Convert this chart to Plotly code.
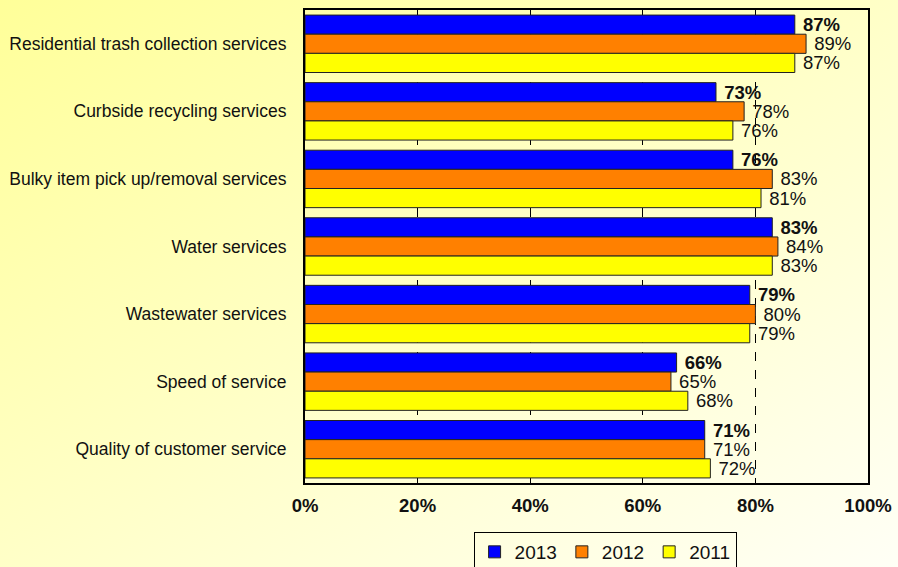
import base64
import plotly.graph_objects as go

categories = [
    "Residential trash collection services",
    "Curbside recycling services",
    "Bulky item pick up/removal services",
    "Water services",
    "Wastewater services",
    "Speed of service",
    "Quality of customer service",
]
series_names = ["2013", "2012", "2011"]
values_2013 = [0.87, 0.73, 0.76, 0.83, 0.79, 0.66, 0.71]
values_2012 = [0.89, 0.78, 0.83, 0.84, 0.80, 0.65, 0.71]
values_2011 = [0.87, 0.76, 0.81, 0.83, 0.79, 0.68, 0.72]
tick_values = [0, 0.2, 0.4, 0.6, 0.8, 1.0]
tick_labels = ["0%", "20%", "40%", "60%", "80%", "100%"]

colors = ["#0000FF", "#FF8000", "#FFFF00"]
templates = ["<b>%{x:.0%}</b>", "%{x:.0%}", "%{x:.0%}"]
series = [values_2013, values_2012, values_2011]

FONT = "Liberation Sans, Arial, sans-serif"

fig = go.Figure()
for name, vals, col, tpl in zip(series_names, series, colors, templates):
    fig.add_trace(go.Bar(
        y=categories, x=vals, name=name, orientation="h",
        marker=dict(color=col, line=dict(color="#222222", width=1)),
        texttemplate=" " + tpl, textposition="outside", constraintext="none",
        textfont=dict(family=FONT, size=18.5, color="#111111"),
        cliponaxis=False,
    ))

# diagonal pale-yellow gradient behind the whole figure
svg = (
    '<svg xmlns="http://www.w3.org/2000/svg" width="898" height="567">'
    '<defs><linearGradient id="g" x1="0" y1="0" x2="1" y2="1">'
    '<stop offset="0" stop-color="#FFFF99"/>'
    '<stop offset="1" stop-color="#FFFFF6"/>'
    '</linearGradient></defs>'
    '<rect width="898" height="567" fill="url(#g)"/></svg>'
)
bg_uri = "data:image/svg+xml;base64," + base64.b64encode(svg.encode()).decode()

fig.update_layout(
    width=898, height=567,
    margin=dict(l=305, r=30, t=10, b=84, autoexpand=False),
    barmode="group", bargap=0.15, bargroupgap=0,
    paper_bgcolor="rgba(0,0,0,0)", plot_bgcolor="#FFFFFF",
    font=dict(family=FONT, color="#111111"),
    images=[dict(source=bg_uri, xref="paper", yref="paper",
                 x=-305 / 563, y=1 + 10 / 473, sizex=898 / 563, sizey=567 / 473,
                 xanchor="left", yanchor="top", sizing="stretch", layer="below")],
    xaxis=dict(range=[0, 1], tickvals=tick_values, ticktext=tick_labels,
               tickfont=dict(family=FONT, size=18.5, color="#111111", weight="bold"),
               showgrid=True, gridcolor="#000000", gridwidth=1, griddash="dash",
               zeroline=False, showline=True, linecolor="#000000", linewidth=2,
               mirror=True, ticks="", ticklabelstandoff=5),
    yaxis=dict(autorange="reversed", tickfont=dict(family=FONT, size=17.5, color="#111111"),
               showline=True, linecolor="#000000", linewidth=2, mirror=True,
               ticks="", ticklabelstandoff=13, showgrid=False),
    legend=dict(orientation="h", x=0.533, xanchor="center", y=-0.1036, yanchor="top",
                bgcolor="rgba(0,0,0,0)", bordercolor="#000000", borderwidth=1,
                font=dict(family=FONT, size=19, color="#111111"),
                itemwidth=30, traceorder="normal"),
)

fig.write_html("out.html")
